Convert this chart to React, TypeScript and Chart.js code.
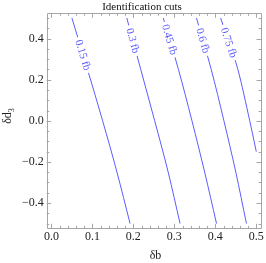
import { useEffect, useRef } from "react";
import { Chart, registerables } from "chart.js";

Chart.register(...registerables);

// ---- data ----
const contourLabels = ["0.15 fb", "0.3 fb", "0.45 fb", "0.6 fb", "0.75 fb"];
const yLevels = [0.5, 0.25, 0, -0.25, -0.5];
const c015 = [0.05, 0.088, 0.125, 0.16, 0.192];
const c030 = [0.184, 0.218, 0.252, 0.285, 0.314];
const c045 = [0.273, 0.31, 0.343, 0.374, 0.403];
const c060 = [0.354, 0.39, 0.421, 0.45, 0.476];
const c075Y = [0.5, 0.25, 0, -0.15];
const c075 = [0.413, 0.455, 0.484, 0.5];
const labelY = [0.32, 0.39, 0.395, 0.39, 0.38];
const xTicks = [0, 0.1, 0.2, 0.3, 0.4, 0.5];
const yTicks = [-0.4, -0.2, 0, 0.2, 0.4];
const xMinorStep = 0.02;
const yMinorStep = 0.05;
const titleText = "Identification cuts";
const xTitle = "δb";
const yTitleMain = "δd";
const yTitleSub = "3";

const LINE = "#5c5cff";
const FRAME = "#a6a6a6";
const SERIF = "'Liberation Serif', 'DejaVu Serif', serif";

function fmt(v: number) {
  const s = Math.abs(v).toFixed(1);
  return v < -1e-9 ? "\u2212" + s : s;
}

const series = [
  yLevels.map((y, i) => ({ x: c015[i], y })),
  yLevels.map((y, i) => ({ x: c030[i], y })),
  yLevels.map((y, i) => ({ x: c045[i], y })),
  yLevels.map((y, i) => ({ x: c060[i], y })),
  c075Y.map((y, i) => ({ x: c075[i], y })),
];

const framePlugin = {
  id: "mmaFrame",
  afterDraw(chart: any) {
    const ctx = chart.ctx;
    const { left, right, top, bottom } = chart.chartArea;
    const xs = chart.scales.x;
    const ys = chart.scales.y;
    ctx.save();
    ctx.strokeStyle = FRAME;
    ctx.lineWidth = 1;
    ctx.beginPath();
    ctx.rect(Math.round(left) + 0.5, Math.round(top) + 0.5, Math.round(right - left), Math.round(bottom - top));
    ctx.stroke();
    // ticks
    ctx.beginPath();
    const drawX = (v: number, len: number) => {
      const px = Math.round(xs.getPixelForValue(v)) + 0.5;
      ctx.moveTo(px, bottom);
      ctx.lineTo(px, bottom - len);
      ctx.moveTo(px, top);
      ctx.lineTo(px, top + len);
    };
    const drawY = (v: number, len: number) => {
      const py = Math.round(ys.getPixelForValue(v)) + 0.5;
      ctx.moveTo(left, py);
      ctx.lineTo(left + len, py);
      ctx.moveTo(right, py);
      ctx.lineTo(right - len, py);
    };
    for (let k = -1; k <= 26; k++) {
      const v = k * xMinorStep;
      if (v < xs.min || v > xs.max) continue;
      const isMajor = Math.abs(v * 10 - Math.round(v * 10)) < 1e-6;
      drawX(v, isMajor ? 4.5 : 2.5);
    }
    for (let k = -11; k <= 11; k++) {
      const v = k * yMinorStep;
      if (v < ys.min || v > ys.max) continue;
      const isMajor = Math.abs(v * 5 - Math.round(v * 5)) < 1e-6;
      drawY(v, isMajor ? 4.5 : 2.5);
    }
    ctx.stroke();

    // contour labels
    ctx.font = `11px ${SERIF}`;
    ctx.textAlign = "center";
    ctx.textBaseline = "middle";
    chart.data.datasets.forEach((ds: any, i: number) => {
      const pts = ds.data as { x: number; y: number }[];
      const ly = labelY[i];
      let lx = pts[0].x;
      let seg = 0;
      for (let j = 0; j < pts.length - 1; j++) {
        const a = pts[j], b = pts[j + 1];
        if ((ly <= a.y && ly >= b.y)) {
          const t = (a.y - ly) / (a.y - b.y);
          lx = a.x + t * (b.x - a.x);
          seg = j;
          break;
        }
      }
      const a = pts[seg], b = pts[seg + 1];
      const ax = xs.getPixelForValue(a.x), ay = ys.getPixelForValue(a.y);
      const bx = xs.getPixelForValue(b.x), by = ys.getPixelForValue(b.y);
      const ang = Math.atan2(by - ay, bx - ax);
      const cx = xs.getPixelForValue(lx);
      const cy = ys.getPixelForValue(ly);
      const text = contourLabels[i];
      const w = ctx.measureText(text).width;
      ctx.save();
      ctx.translate(cx, cy);
      ctx.rotate(ang);
      ctx.fillStyle = "#ffffff";
      ctx.fillRect(-w / 2 - 3, -4, w + 6, 8);
      ctx.fillStyle = LINE;
      ctx.fillText(text, 0, 0.5);
      ctx.restore();
    });

    // titles
    ctx.fillStyle = "#111111";
    ctx.textBaseline = "alphabetic";
    ctx.textAlign = "center";
    ctx.font = `11px ${SERIF}`;
    ctx.fillText(titleText, 142, 10);
    ctx.fillStyle = "#222222";
    ctx.font = `12px ${SERIF}`;
    ctx.fillText(xTitle, 155.5, 258.5);
    // y title rotated
    ctx.save();
    ctx.translate(11, 116);
    ctx.rotate(-Math.PI / 2);
    ctx.font = `12px ${SERIF}`;
    const wm = ctx.measureText(yTitleMain).width;
    ctx.font = `8px ${SERIF}`;
    const ws = ctx.measureText(yTitleSub).width;
    const start = -(wm + ws) / 2;
    ctx.textAlign = "left";
    ctx.font = `12px ${SERIF}`;
    ctx.fillText(yTitleMain, start, 0);
    ctx.font = `8px ${SERIF}`;
    ctx.fillText(yTitleSub, start + wm, 2.5);
    ctx.restore();
    ctx.restore();
  },
};

export default function App() {
  const ref = useRef<HTMLCanvasElement | null>(null);
  useEffect(() => {
    document.body.style.margin = "0";
    const canvas = ref.current!;
    const chart = new Chart(canvas, {
      type: "scatter",
      data: {
        datasets: series.map((d, i) => ({
          label: contourLabels[i],
          data: d,
          showLine: true,
          borderColor: LINE,
          backgroundColor: LINE,
          borderWidth: 1,
          pointRadius: 0,
          cubicInterpolationMode: "monotone" as const,
        })),
      },
      options: {
        animation: false,
        responsive: false,
        devicePixelRatio: 1,
        events: [],
        layout: { padding: { top: 13.3, right: 5, left: 0, bottom: 0 } },
        plugins: { legend: { display: false }, tooltip: { enabled: false }, title: { display: false } },
        scales: {
          x: {
            type: "linear",
            min: -0.0115,
            max: 0.5115,
            grid: { display: false, drawTicks: false },
            border: { display: false },
            afterBuildTicks: (s: any) => {
              s.ticks = xTicks.map((v) => ({ value: v }));
            },
            afterFit: (s: any) => {
              s.height = 34.7;
            },
            ticks: {
              padding: 1,
              maxRotation: 0,
              autoSkip: false,
              color: "#222222",
              font: { family: SERIF, size: 12 },
              callback: (v: any) => fmt(Number(v)),
            },
          },
          y: {
            type: "linear",
            min: -0.523,
            max: 0.523,
            grid: { display: false, drawTicks: false },
            border: { display: false },
            afterBuildTicks: (s: any) => {
              s.ticks = yTicks.map((v) => ({ value: v }));
            },
            afterFit: (s: any) => {
              s.width = 46.7;
            },
            ticks: {
              padding: 3,
              autoSkip: false,
              color: "#222222",
              font: { family: SERIF, size: 12 },
              callback: (v: any) => fmt(Number(v)),
            },
          },
        },
      },
      plugins: [framePlugin],
    });
    return () => chart.destroy();
  }, []);
  return (
    <div style={{ width: 266, height: 263 }}>
      <canvas ref={ref} width={266} height={263} style={{ display: "block" }} />
    </div>
  );
}
